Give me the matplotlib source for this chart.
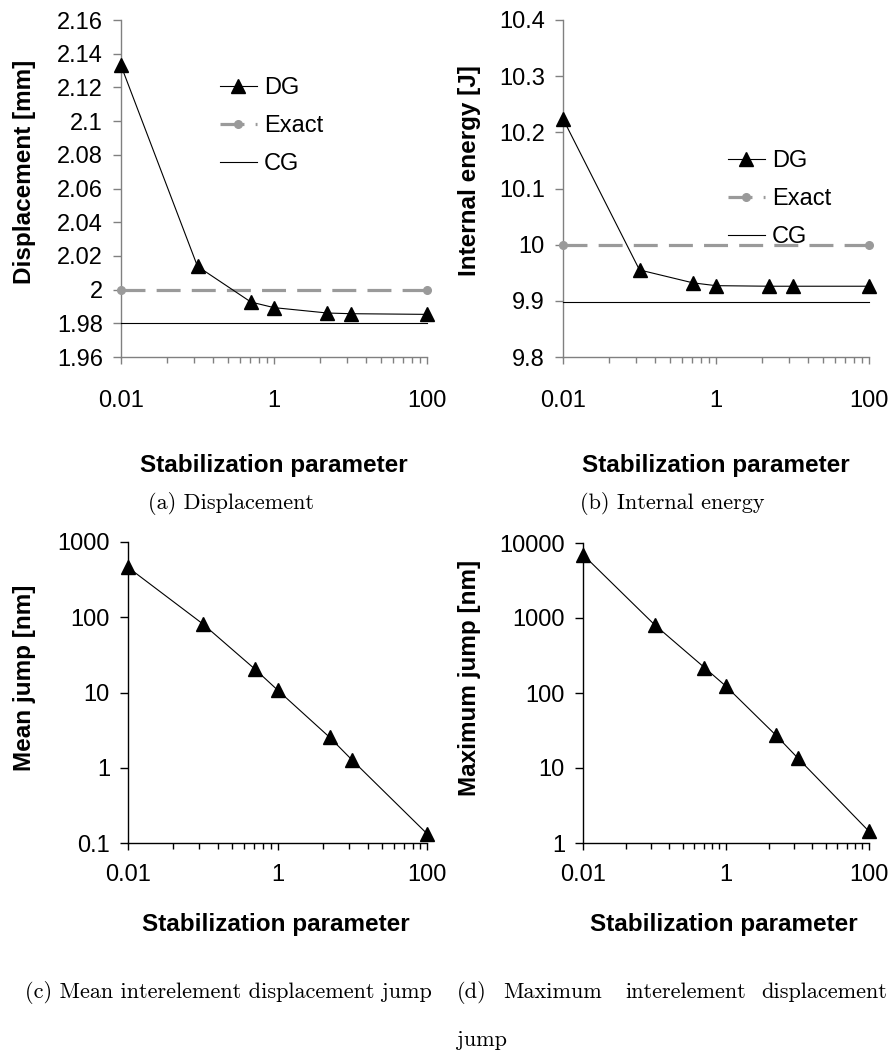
import matplotlib
matplotlib.use('Agg')
import matplotlib.pyplot as plt
from matplotlib.ticker import FixedLocator, FixedFormatter, NullFormatter, NullLocator

W, H = 893, 1053
plt.rcParams['font.family'] = ['Liberation Sans', 'DejaVu Sans']

# ---------------- data ----------------
stab = [0.01, 0.1, 0.5, 1, 5, 10, 100]
ref_x = [0.01, 100]

disp_dg = [2.133, 2.0138, 1.9926, 1.9893, 1.9861, 1.9857, 1.9853]
disp_exact = [2.0, 2.0]
disp_cg = [1.98, 1.98]

energy_dg = [10.224, 9.955, 9.932, 9.927, 9.926, 9.926, 9.926]
energy_exact = [10.0, 10.0]
energy_cg = [9.898, 9.898]

mean_jump = [460, 81.7, 20.4, 10.8, 2.53, 1.26, 0.133]
max_jump = [6990, 815, 218, 123, 27.3, 13.7, 1.43]

x_ticks = [0.01, 1, 100]
x_tick_labels = ['0.01', '1', '100']
disp_ticks = [1.96, 1.98, 2.0, 2.02, 2.04, 2.06, 2.08, 2.1, 2.12, 2.14, 2.16]
disp_tick_labels = ['1.96', '1.98', '2', '2.02', '2.04', '2.06', '2.08', '2.1', '2.12', '2.14', '2.16']
energy_ticks = [9.8, 9.9, 10.0, 10.1, 10.2, 10.3, 10.4]
energy_tick_labels = ['9.8', '9.9', '10', '10.1', '10.2', '10.3', '10.4']
mean_ticks = [0.1, 1, 10, 100, 1000]
mean_tick_labels = ['0.1', '1', '10', '100', '1000']
max_ticks = [1, 10, 100, 1000, 10000]
max_tick_labels = ['1', '10', '100', '1000', '10000']

# ---------------- layout helpers ----------------
fig = plt.figure(figsize=(W / 100, H / 100), dpi=100)


def fx(px):
    return px / W


def fy(py):
    return 1 - py / H


def add_axes(l, t, r, b):
    return fig.add_axes([fx(l), fy(b), (r - l) / W, (b - t) / H])


minor_pos = [0.01 * k * k for k in range(2, 10)] + [float(k * k) for k in range(2, 10)]


def style(ax, spine_color, yticks, ylabels, ylim, logy, xpad):
    for s in ['top', 'right']:
        ax.spines[s].set_visible(False)
    for s in ['left', 'bottom']:
        ax.spines[s].set_color(spine_color)
        ax.spines[s].set_linewidth(1.0)
    ax.set_xscale('log')
    ax.set_xlim(0.01, 100)
    if logy:
        ax.set_yscale('log')
    ax.set_ylim(*ylim)
    ax.xaxis.set_major_locator(FixedLocator(x_ticks))
    ax.xaxis.set_major_formatter(FixedFormatter(x_tick_labels))
    ax.xaxis.set_minor_locator(FixedLocator(minor_pos))
    ax.xaxis.set_minor_formatter(NullFormatter())
    ax.yaxis.set_major_locator(FixedLocator(yticks))
    ax.yaxis.set_major_formatter(FixedFormatter(ylabels))
    ax.yaxis.set_minor_locator(NullLocator())
    ax.tick_params(axis='y', which='major', direction='out', length=6, width=1.0,
                   color=spine_color, labelsize=17, pad=7)
    ax.tick_params(axis='x', which='major', direction='out', length=5, width=1.0,
                   color=spine_color, labelsize=17, pad=xpad)
    ax.tick_params(axis='x', which='minor', direction='out', length=4.5, width=1.0,
                   color=spine_color)
    ax.set_facecolor('none')


def labels(ax, xl_c, yl_c, ylabel_text):
    ax.set_xlabel('Stabilization parameter', fontsize=17.5, fontweight='bold')
    ax.xaxis.label.set_va('center')
    ax.xaxis.set_label_coords(fx(xl_c[0]), fy(xl_c[1]), transform=fig.transFigure)
    ax.set_ylabel(ylabel_text, fontsize=17.5, fontweight='bold')
    ax.yaxis.label.set_va('center')
    ax.yaxis.set_label_coords(fx(yl_c[0]), fy(yl_c[1]), transform=fig.transFigure)


def plot_three(ax, dg, exact, cg, leg_xy):
    l1, = ax.plot(stab, dg, color='black', lw=0.8, marker='^', ms=9.5,
                  markeredgecolor='black', clip_on=False, zorder=4, label='DG')
    l2, = ax.plot(ref_x, exact, color='#9a9a9a', lw=2.3, ls=(0, (7.5, 3.5)),
                  marker='o', ms=5.5, markeredgecolor='#9a9a9a', clip_on=False,
                  zorder=3, label='Exact')
    l3, = ax.plot(ref_x, cg, color='black', lw=0.8, clip_on=False, zorder=3, label='CG')
    ax.legend(handles=[l1, l2, l3], loc='center left',
              bbox_to_anchor=(fx(leg_xy[0]), fy(leg_xy[1])),
              bbox_transform=fig.transFigure, frameon=False, borderpad=0,
              borderaxespad=0, handlelength=1.55, handletextpad=0.3,
              labelspacing=0.68, fontsize=17)


# ---------------- (a) ----------------
ax_a = add_axes(121, 20, 427, 357)
style(ax_a, '#808080', disp_ticks, disp_tick_labels, (1.96, 2.16), False, 19)
plot_three(ax_a, disp_dg, disp_exact, disp_cg, (220, 126))
labels(ax_a, (274, 466), (25, 172), 'Displacement [mm]')

# ---------------- (b) ----------------
ax_b = add_axes(563, 20, 869, 357)
style(ax_b, '#808080', energy_ticks, energy_tick_labels, (9.8, 10.4), False, 19)
plot_three(ax_b, energy_dg, energy_exact, energy_cg, (728, 199))
labels(ax_b, (716, 466), (469, 171), 'Internal energy [J]')

# ---------------- (c) ----------------
ax_c = add_axes(128, 542, 427, 843)
style(ax_c, 'black', mean_ticks, mean_tick_labels, (0.1, 1000), True, 10)
ax_c.plot(stab, mean_jump, color='black', lw=0.8, marker='^', ms=9.5,
          clip_on=False, zorder=4)
labels(ax_c, (276, 925), (25, 678), 'Mean jump [nm]')

# ---------------- (d) ----------------
ax_d = add_axes(583, 543, 869, 843)
style(ax_d, 'black', max_ticks, max_tick_labels, (1, 10000), True, 10)
ax_d.plot(stab, max_jump, color='black', lw=0.8, marker='^', ms=9.5,
          clip_on=False, zorder=4)
labels(ax_d, (724, 925), (469, 678), 'Maximum jump [nm]')

# ---------------- captions ----------------
cap = dict(family='cmr10', fontsize=16, va='center')
fig.text(fx(231), fy(503), '(a) Displacement', ha='center', **cap)
fig.text(fx(672), fy(503), '(b) Internal energy', ha='center', **cap)
fig.text(fx(25), fy(992), '(c) Mean interelement displacement jump', ha='left', **cap)
fig.text(fx(457), fy(992), '(d)', ha='left', **cap)
fig.text(fx(503), fy(992), 'Maximum', ha='left', **cap)
fig.text(fx(625), fy(992), 'interelement', ha='left', **cap)
fig.text(fx(887), fy(992), 'displacement', ha='right', **cap)
fig.text(fx(457), fy(1040), 'jump', ha='left', **cap)

fig.savefig('out.png', dpi=100, facecolor='white')
